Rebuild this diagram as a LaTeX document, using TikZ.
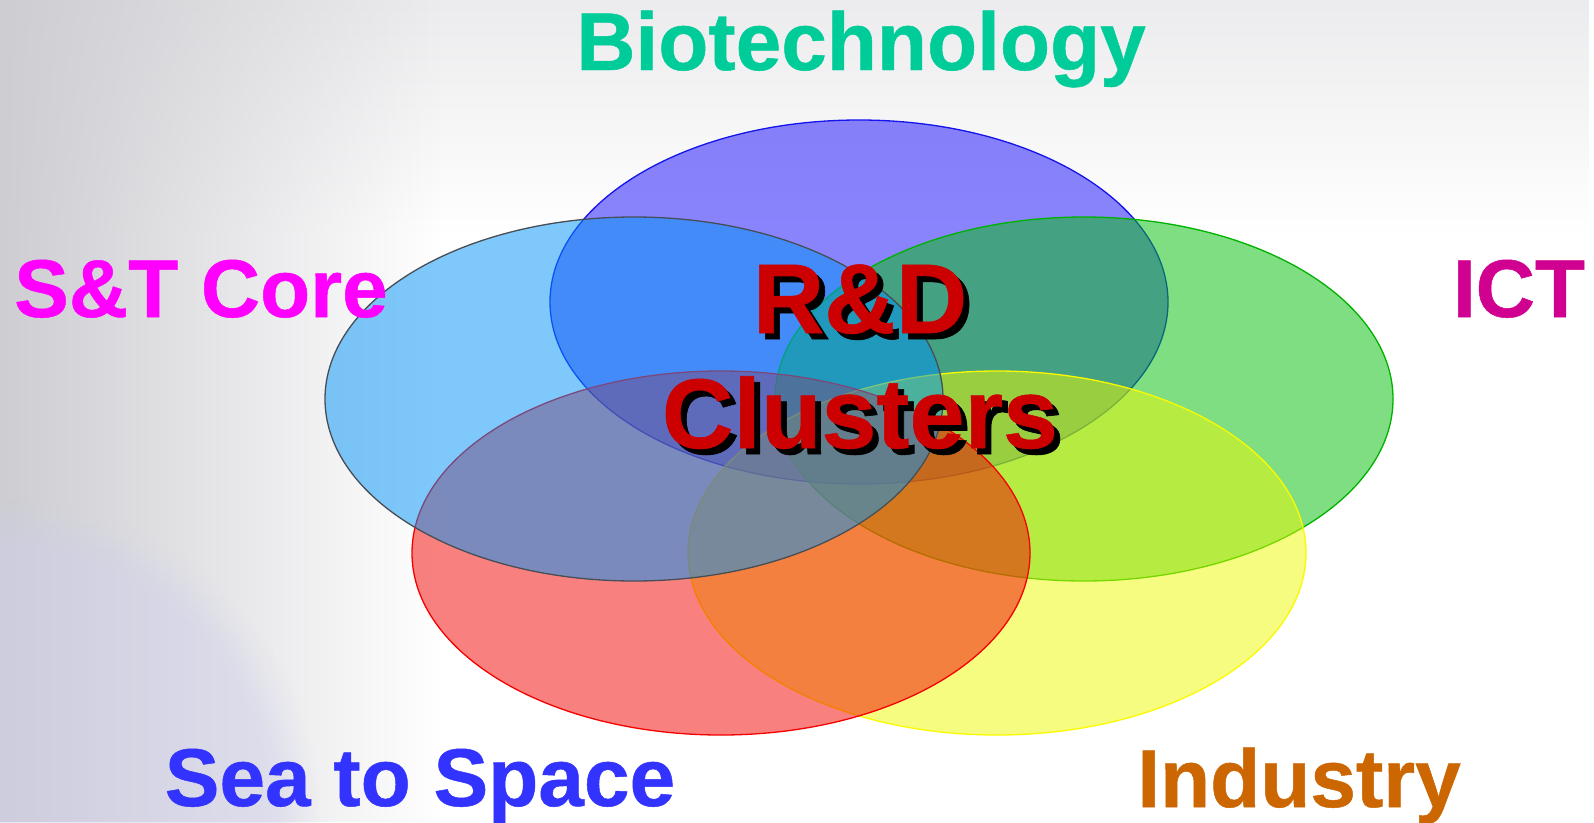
\documentclass[tikz,border=0pt]{standalone}
\usepackage{fontspec}
\usetikzlibrary{shapes.geometric,fadings}
\newfontfamily\lblfont[FakeBold=0.6]{Liberation Sans Bold}
\definecolor{bioC}{RGB}{0,204,153}
\definecolor{stC}{RGB}{255,0,255}
\definecolor{ictC}{RGB}{208,0,144}
\definecolor{seaC}{RGB}{51,51,255}
\definecolor{indC}{RGB}{204,102,0}
\definecolor{rdC}{RGB}{204,0,0}
\definecolor{fBio}{RGB}{21,11,251}
\definecolor{lBio}{RGB}{20,20,235}
\definecolor{fST}{RGB}{0,147,249}
\definecolor{lST}{RGB}{70,78,86}
\definecolor{fICT}{RGB}{0,191,7}
\definecolor{lICT}{RGB}{0,178,0}
\definecolor{fSea}{RGB}{243,5,0}
\definecolor{lSea}{RGB}{245,0,0}
\definecolor{fInd}{RGB}{237,251,1}
\definecolor{lInd}{RGB}{250,250,0}
\definecolor{bgGray}{RGB}{205,205,210}
\definecolor{bgTop}{RGB}{236,236,238}
\definecolor{bgLav}{RGB}{205,205,235}
\tikzset{
  blob/.style={ellipse, minimum width=618pt, minimum height=364pt, inner sep=0pt,
    line width=1.3pt, fill opacity=0.5, draw opacity=1},
  lbl/.style={font=\lblfont\fontsize{82}{98}\selectfont, inner sep=0pt, anchor=base},
  big/.style={font=\lblfont\fontsize{99}{115}\selectfont, inner sep=0pt, anchor=base}
}
\begin{document}
\begin{tikzpicture}[x=1pt,y=-1pt]
\useasboundingbox (0,0) rectangle (1594,822);
% background
\fill[white] (0,0) rectangle (1594,822);
\fill[bgTop, path fading=south] (0,0) rectangle (1594,230);
\fill[bgGray, path fading=east] (0,0) rectangle (440,822);
\fill[bgLav, opacity=0.45, path fading=circle with fuzzy edge 15 percent] (-320,500) rectangle (320,1144);
% ellipses (bottom to top)
\node[blob, draw=lBio, fill=fBio] (bio) at (859,302) {};
\node[blob, draw=lICT, fill=fICT] (ict) at (1084,399) {};
\node[blob, draw=lInd, fill=fInd] (ind) at (997,553) {};
\node[blob, draw=lSea, fill=fSea] (sea) at (721,553) {};
\node[blob, draw=lST, fill=fST] (st) at (634,399) {};
% labels
\node[lbl, text=bioC] (tbio) at (861,70) {Biotechnology};
\node[lbl, text=stC] (tst) at (201,317) {S\&T Core};
\node[lbl, text=ictC] (tict) at (1519,317) {ICT};
\node[lbl, text=seaC] (tsea) at (420,806) {Sea to Space};
\node[lbl, text=indC] (tind) at (1299,807) {Industry};
% centre title with shadow
\node[big, text=black] (rdS) at (866,339) {R\&D};
\node[big, text=black] (clS) at (866,454) {Clusters};
\node[big, text=rdC] (rd) at (860,333) {R\&D};
\node[big, text=rdC] (cl) at (860,448) {Clusters};
\end{tikzpicture}
\end{document}
